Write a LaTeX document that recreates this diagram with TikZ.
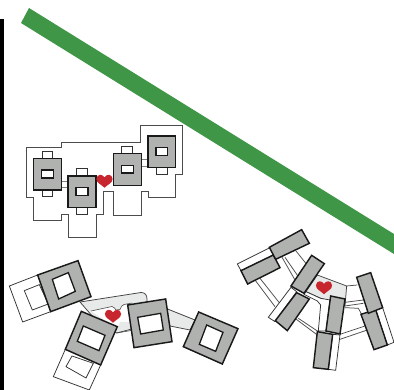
\documentclass[tikz,border=0pt]{standalone}
\tikzset{
  px/.style={x=0.3333pt,y=-0.3333pt},
  graybox/.style={draw=black!90,fill=boxgray,line width=1.45pt,line join=miter},
  innerwin/.style={draw=black!90,fill=white,line width=1.3pt},
  ghost/.style={draw=black!80,fill=white,line width=0.75pt},
  thin outline/.style={draw=black!70,line width=0.75pt},
  pale/.style={draw=black!75,fill=palegray,line width=0.75pt},
  heart/.style={fill=heartred,draw=none}
}
\definecolor{boxgray}{RGB}{176,178,176}
\definecolor{palegray}{RGB}{232,234,233}
\definecolor{heartred}{RGB}{200,38,46}
\definecolor{bargreen}{RGB}{62,150,70}
\newcommand{\heartat}[3]{% x y (px) scale
  \fill[heart,shift={(#1,#2)},scale=#3]
    (0,-3.5) .. controls (-2,-8) and (-9,-8) .. (-9.5,-2)
    .. controls (-9.5,3) and (-4,4.5) .. (0,8.5)
    .. controls (4,4.5) and (9.5,3) .. (9.5,-2)
    .. controls (9,-8) and (2,-8) .. (0,-3.5) -- cycle;}
\begin{document}
\begin{tikzpicture}[x=1pt,y=-1pt]
\useasboundingbox (0,0) rectangle (394,390);
% black bar and green band
\fill[black] (0,19) rectangle (4,390);
\fill[bargreen] (29,8) -- (394,234) -- (394,254) -- (21,23) -- cycle;
% ---- group 1
\begin{scope}[shift={(0pt,-110pt)},px]
\draw[thin outline] (80,113)--(184,113)--(184,96)--(422,96)--(422,47)--(548,47)--(548,193)--(527,193)--(527,262)--(444,262)--(444,245)--(424,245)--(424,316)--(340,316)--(340,245)--(310,245)--(310,313)--(288,313)--(288,383)--(205,383)--(205,313)--(184,313)--(184,330)--(101,330)--(101,261)--(80,261)--cycle;
\draw[ghost,draw=black!50] (184,214) rectangle (204,232);
\draw[ghost,draw=black!50] (424,148) rectangle (444,168);
\draw[ghost] (126,124) rectangle (158,145);
\draw[ghost] (126,240) rectangle (158,260);
\draw[ghost] (229,176) rectangle (262,198);
\draw[ghost] (229,293) rectangle (262,313);
\draw[ghost] (365,110) rectangle (398,130);
\draw[ghost] (470,172) rectangle (502,193);
\draw[graybox] (100,145) rectangle (184,240);
\draw[innerwin] (125,180) rectangle (160,204);
\draw[graybox] (204,198) rectangle (288,293);
\draw[innerwin] (228,233) rectangle (264,257);
\draw[graybox] (340,130) rectangle (424,226);
\draw[innerwin] (364,166) rectangle (400,189);
\draw[graybox] (444,78) rectangle (527,172);
\draw[innerwin] (468,113) rectangle (503,136);
\end{scope}
\heartat{104.5}{180.5}{0.85}
% ---- group 2: pale connectors
\draw[pale] (80,302) -- (141,292.5) .. controls (145,292.5) and (147,295) .. (147,299) -- (147,325) -- (116.7,333) -- (100,325) -- cycle;
\fill[white] (91,311) -- (112,306.5) .. controls (114,306.5) and (115,309) .. (116,310) -- (120,309.5) .. controls (121,307) and (122,305) .. (124,304.5) -- (132,303) -- (133,327) -- (116,327) -- cycle;
\draw[draw=black!70,line width=0.6pt] (91,311) -- (112,306.5) .. controls (114,306.5) and (115,309) .. (116,310) -- (120,309.5) .. controls (121,307) and (122,305) .. (124,304.5) -- (132,303);
\fill[palegray] (116,331) -- (134,328) -- (134,322) -- (120,322) -- cycle;
\draw[draw=black!70,line width=0.6pt] (116.7,333) -- (134,330);
\draw[pale] (165,308) -- (195,320) -- (190,330) -- (170,326) -- cycle;
\heartat{113}{315.5}{0.85}
\begin{scope}[shift={(0pt,-250pt)},px]
\draw[ghost] (28,108) -- (113,75) -- (152,185) -- (68,216) -- cycle;
\draw[ghost] (73,122) -- (118,104) -- (145,162) -- (97,180) -- cycle;
\draw[graybox] (113,75) -- (234,32) -- (273,140) -- (152,185) -- cycle;
\draw[innerwin] (157,88) -- (205,68) -- (226,124) -- (176,147) -- cycle;
\draw[ghost] (196,298) -- (302,345) -- (268,420) -- (160,380) -- cycle;
\draw[ghost] (216,318) -- (280,340) -- (258,384) -- (198,350) -- cycle;
\draw[graybox] (244,184) -- (352,230) -- (302,345) -- (196,298) -- cycle;
\draw[innerwin] (250,228) -- (315,256) -- (297,302) -- (232,274) -- cycle;
\end{scope}
\begin{scope}[shift={(100pt,-280pt)},px]
\draw[graybox] (83,75) -- (197,57) -- (216,185) -- (102,203) -- cycle;
\draw[innerwin] (113,112) -- (182,100) -- (190,150) -- (122,162) -- cycle;
\draw[graybox] (296,96) -- (414,146) -- (367,252) -- (250,200) -- cycle;
\draw[innerwin] (320,135) -- (369,157) -- (347,214) -- (298,193) -- cycle;
\end{scope}
% ---- group 3
\begin{scope}[shift={(230pt,-225pt)},px]
\draw[pale] (262,150) -- (350,183) -- (345,243) -- (272,220) -- (228,200) -- cycle;
% double connectors
\draw[thin outline] (155,95) -- (195,165);
\draw[thin outline] (165,97) -- (205,155);
\draw[thin outline] (198,78) -- (230,118);
\draw[thin outline] (75,165) -- (135,245);
\draw[thin outline] (90,160) -- (147,232);
\draw[thin outline] (195,280) -- (262,330);
\draw[thin outline] (205,280) -- (268,322);
\draw[ghost] (228,200) -- (272,220) -- (300,225) -- (288,318) -- (265,318) -- (272,240) -- (262,228) -- (222,208) -- cycle;
\draw[thin outline] (350,183) -- (382,180);
\draw[thin outline] (345,232) -- (400,225);
\draw[thin outline] (345,243) -- (400,235);
\draw[thin outline] (345,248) -- (385,250) -- (395,268);
\draw[thin outline] (330,328) -- (405,303);
\draw[thin outline] (330,343) -- (412,315);
% top left pair
\draw[ghost] (22,117) -- (120,68) -- (130,90) -- (33,137) -- cycle;
\draw[graybox] (33,137) -- (130,90) -- (150,128) -- (53,177) -- cycle;
\draw[graybox] (118,67) -- (215,14) -- (238,55) -- (137,103) -- cycle;
% second pair
\draw[ghost] (183,187) -- (200,200) -- (135,290) -- (115,277) -- cycle;
\draw[graybox] (200,203) -- (238,222) -- (172,317) -- (136,287) -- cycle;
\draw[graybox] (245,91) -- (283,116) -- (222,205) -- (183,183) -- cycle;
% third pair
\draw[ghost] (308,328) -- (330,330) -- (317,436) -- (295,433) -- cycle;
\draw[graybox] (262,320) -- (308,328) -- (295,433) -- (250,428) -- cycle;
\draw[graybox] (302,213) -- (345,222) -- (330,327) -- (288,318) -- cycle;
% fourth pair
\draw[ghost] (437,254) -- (458,248) -- (492,352) -- (472,360) -- cycle;
\draw[graybox] (393,268) -- (437,254) -- (472,360) -- (432,374) -- cycle;
\draw[graybox] (380,157) -- (422,143) -- (458,248) -- (415,265) -- cycle;
\end{scope}
\heartat{324}{287}{0.85}
\end{tikzpicture}
\end{document}
